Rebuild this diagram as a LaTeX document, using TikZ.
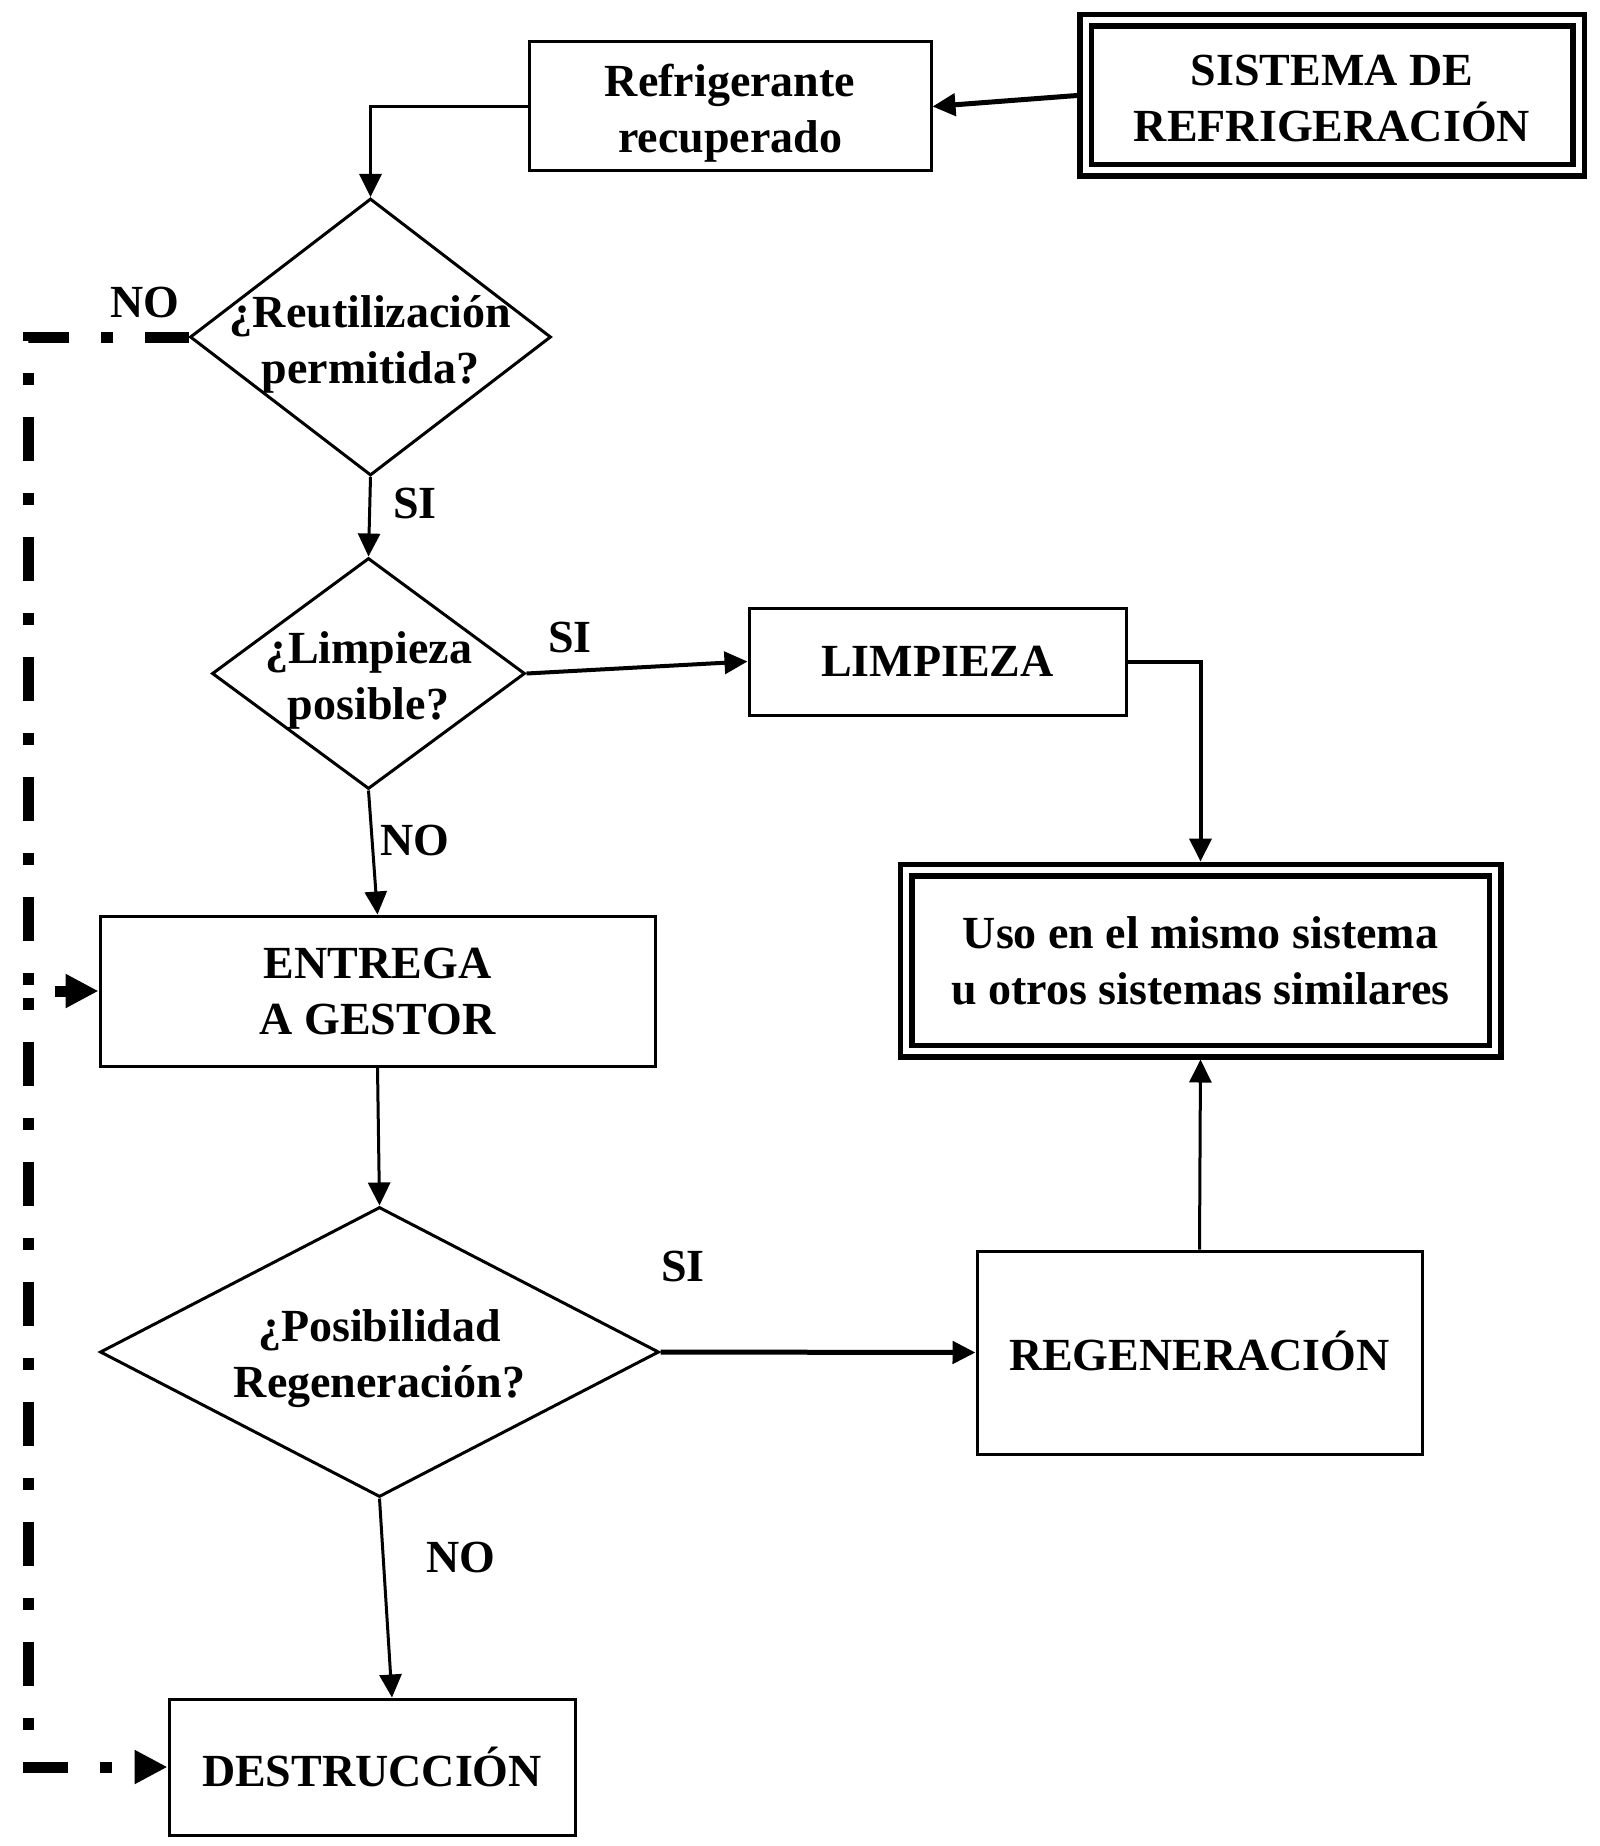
\documentclass[tikz,border=0pt]{standalone}
\usepackage{fontspec}
\setmainfont{Liberation Serif}
\usetikzlibrary{shapes.geometric,arrows.meta}

\begin{document}
\begin{tikzpicture}
  [x=1pt,y=-1pt,line width=3pt,>={Triangle[length=23pt,width=22pt]},
   every node/.style={font=\bfseries\fontsize{46}{56}\selectfont,align=center,inner sep=0pt},
   box/.style={draw,rectangle},
   dbox/.style={draw,rectangle,double,line width=5.5pt,double distance=6pt,outer sep=8.5pt},
   ask/.style={draw,diamond},
   dashlink/.style={line width=11pt,dash pattern=on 44pt off 32pt on 12pt off 32pt,
     -{Triangle[length=33pt,width=32pt]}}]
  \useasboundingbox (0,0) rectangle (1599,1846);
  \node[dbox,minimum width=493pt,minimum height=150pt] (sis) at (1332,95.5) {};
  \node (tsis) at ([yshift=-3pt]sis) {SISTEMA DE\\REFRIGERACIÓN};
  \node[box,minimum width=402pt,minimum height=129pt] (rec) at (730,106.5) {};
  \node (trec) at ([yshift=-7pt]rec) {Refrigerante\\recuperado};
  \node[ask,minimum width=361pt,minimum height=277pt] (reu) at (370.5,337) {};
  \node (treu) at ([yshift=-7pt]reu) {¿Reutilización\\permitida?};
  \node[ask,minimum width=313pt,minimum height=231pt] (lpo) at (368.5,673.5) {};
  \node (tlpo) at ([yshift=-7pt]lpo) {¿Limpieza\\posible?};
  \node[box,minimum width=377pt,minimum height=107pt] (lim) at (937.5,661.5) {LIMPIEZA};
  \node[dbox,minimum width=589pt,minimum height=181pt] (uso) at (1200.5,960.5) {Uso en el mismo sistema\\u otros sistemas similares};
  \node[box,minimum width=555pt,minimum height=150pt] (ent) at (377.5,991) {ENTREGA\\A GESTOR};
  \node[ask,minimum width=559pt,minimum height=290pt] (pos) at (379.5,1352) {};
  \node (tpos) at ([yshift=-7pt]pos) {¿Posibilidad\\Regeneración?};
  \node[box,minimum width=445pt,minimum height=203pt] (reg) at (1199.5,1352.5) {};
  \node (treg) at ([yshift=2pt]reg) {REGENERACIÓN};
  \node[box,minimum width=406pt,minimum height=136pt] (des) at (372,1767) {DESTRUCCIÓN};
  % etiquetas
  \node (nreu) at (145,302) {NO};
  \node (sreu) at (415,503) {SI};
  \node (slpo) at (570,637) {SI};
  \node (nlpo) at (415,840) {NO};
  \node (spos) at (683,1266) {SI};
  \node (npos) at (461,1557) {NO};
  % flechas
  \draw[->,line width=5pt] (sis.west) -- (rec.east);
  \draw[->] (rec.west) -| (reu.north);
  \foreach \from/\to in {reu.south/lpo.north,lpo.south/ent.north,ent.south/pos.north,reg.north/uso.south}
    \draw[->] (\from) -- (\to);
  \draw[->,line width=4pt] (lpo.east) -- (lim.west);
  \draw[->,line width=4pt] (lim.east) -| (uso.north);
  \draw[->,line width=5pt] (pos.east) -- (reg.west);
  \draw[->] (pos.south) -- ([xshift=20pt]des.north);
  \coordinate (ctop) at (28.5,337);
  \coordinate (cmid) at (28.5,991);
  \draw[dashlink] (reu.west) -- (ctop) |- (ent.west);
  \draw[dashlink,dash phase=69pt] (cmid) |- (des.west);
\end{tikzpicture}
\end{document}
